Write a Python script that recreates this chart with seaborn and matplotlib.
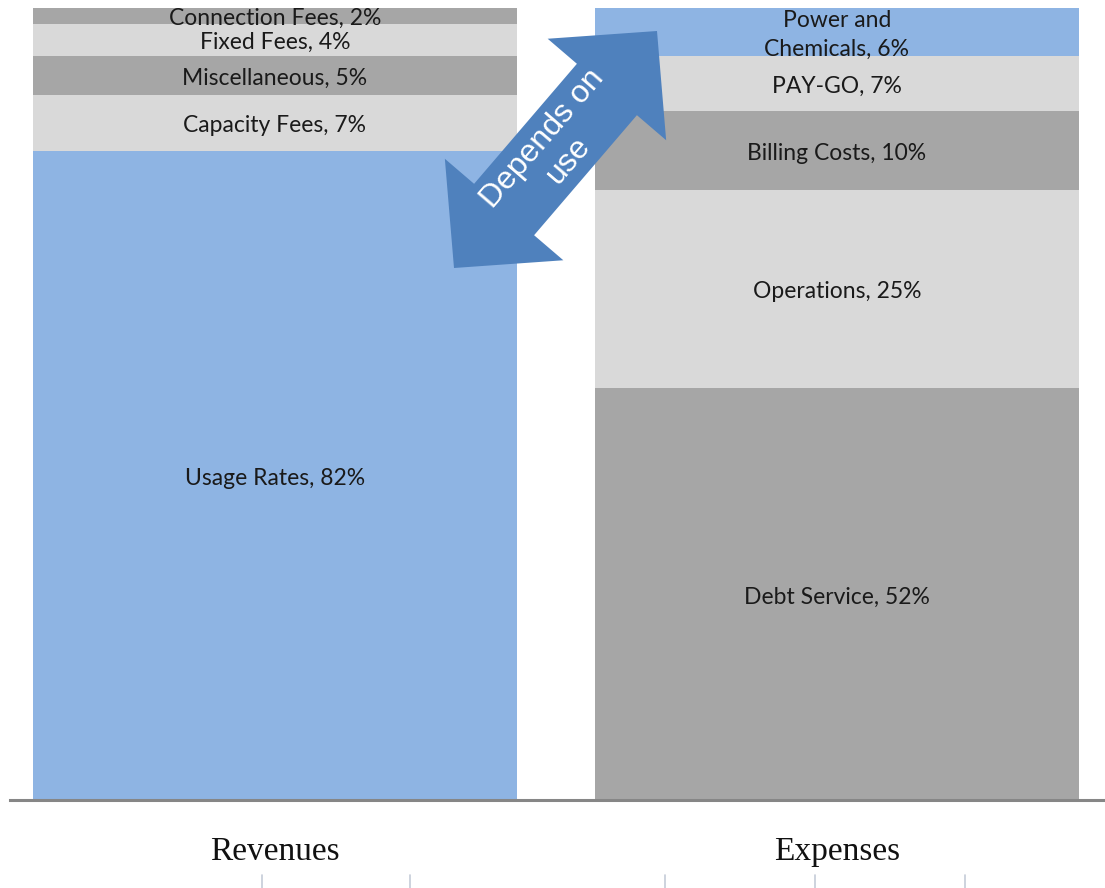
import numpy as np
import pandas as pd
import matplotlib.pyplot as plt
import seaborn as sns
from matplotlib.patches import Polygon
from matplotlib.lines import Line2D

###
### DATA
###

categories = ['Revenues', 'Expenses']

# segments listed bottom -> top
rev_labels = ['Usage Rates', 'Capacity Fees', 'Miscellaneous', 'Fixed Fees', 'Connection Fees']
rev_values = [82, 7, 5, 4, 2]

exp_labels = ['Debt Service', 'Operations', 'Billing Costs', 'PAY-GO', 'Power and\nChemicals']
exp_values = [52, 25, 10, 7, 6]

BLUE = '#8EB4E3'
LIGHT = '#D9D9D9'
DARK = '#A6A6A6'
rev_colors = [BLUE, LIGHT, DARK, LIGHT, DARK]
exp_colors = [DARK, LIGHT, DARK, LIGHT, BLUE]

arrow_text = 'Depends on\nuse'

###
### FIGURE
###

sns.set_theme(style='white')
plt.rcParams['font.family'] = ['Lato', 'DejaVu Sans']

W, H = 1105, 888
fig = plt.figure(figsize=(W / 100, H / 100), dpi=100)
ax = fig.add_axes([10 / W, 1 - 800 / H, 1 - 10 / W, (800 - 8) / H])

rev_cum = np.cumsum(rev_values)
exp_cum = np.cumsum(exp_values)
bar_w = 0.861

### stacked bars: draw cumulative totals from the top down so each covers the one above
for k in range(len(rev_values) - 1, -1, -1):
    df = pd.DataFrame({'cat': categories, 'val': [rev_cum[k], exp_cum[k]]})
    sns.barplot(data=df, x='cat', y='val', hue='cat', order=categories,
                palette={'Revenues': rev_colors[k], 'Expenses': exp_colors[k]},
                width=bar_w, saturation=1, linewidth=0, legend=False, ax=ax)

### segment labels
for xi, labels, values, cum in [(0, rev_labels, rev_values, rev_cum),
                                (1, exp_labels, exp_values, exp_cum)]:
    for lab, v, c in zip(labels, values, cum):
        ax.annotate(f'{lab}, {v}%', (xi, c - v / 2), xytext=(0, -2),
                    textcoords='offset points', ha='center', va='center',
                    fontsize=16.5, color='#1a1a1a', linespacing=1.45)

ax.set_xlim(-0.4715, 1.477)
ax.set_ylim(0, 100)
ax.set_xlabel('')
ax.set_ylabel('')
ax.set_yticks([])
for s in ['left', 'right', 'top']:
    ax.spines[s].set_visible(False)
ax.spines['bottom'].set_color('#868686')
ax.spines['bottom'].set_linewidth(2.2)
ax.tick_params(axis='x', length=0, pad=26)
for t in ax.get_xticklabels():
    t.set_fontfamily('Liberation Serif')
    t.set_fontsize(24)
    t.set_color('#111111')

###
### DOUBLE ARROW (pixel geometry, top-left origin)
###
tip1 = np.array([454.0, H - 268.0])
tip2 = np.array([657.0, H - 31.0])
head_w, shaft_w, head_l = 156, 79, 77
u = (tip2 - tip1) / np.linalg.norm(tip2 - tip1)
n = np.array([-u[1], u[0]])
pts = [tip1,
       tip1 + u * head_l + n * head_w / 2,
       tip1 + u * head_l + n * shaft_w / 2,
       tip2 - u * head_l + n * shaft_w / 2,
       tip2 - u * head_l + n * head_w / 2,
       tip2,
       tip2 - u * head_l - n * head_w / 2,
       tip2 - u * head_l - n * shaft_w / 2,
       tip1 + u * head_l - n * shaft_w / 2,
       tip1 + u * head_l - n * head_w / 2]
pts = np.array(pts) / np.array([W, H])
fig.add_artist(Polygon(pts, closed=True, facecolor='#4F81BD', edgecolor='none',
                       transform=fig.transFigure, zorder=5))
mid = (tip1 + tip2) / 2
angle = np.degrees(np.arctan2(u[1], u[0]))
fig.text(mid[0] / W, mid[1] / H, arrow_text, rotation=angle, rotation_mode='anchor',
         ha='center', va='center', multialignment='center', color='white',
         fontsize=23, family=['Liberation Sans', 'DejaVu Sans'], linespacing=1.15,
         zorder=6)

### faint leftover gridline stubs at the bottom edge
for px in [262, 410, 665, 815, 965]:
    fig.add_artist(Line2D([px / W, px / W], [0, 13 / H], color='#C5CCD8',
                          linewidth=1.2, transform=fig.transFigure))

fig.savefig('out.png', dpi=100)
